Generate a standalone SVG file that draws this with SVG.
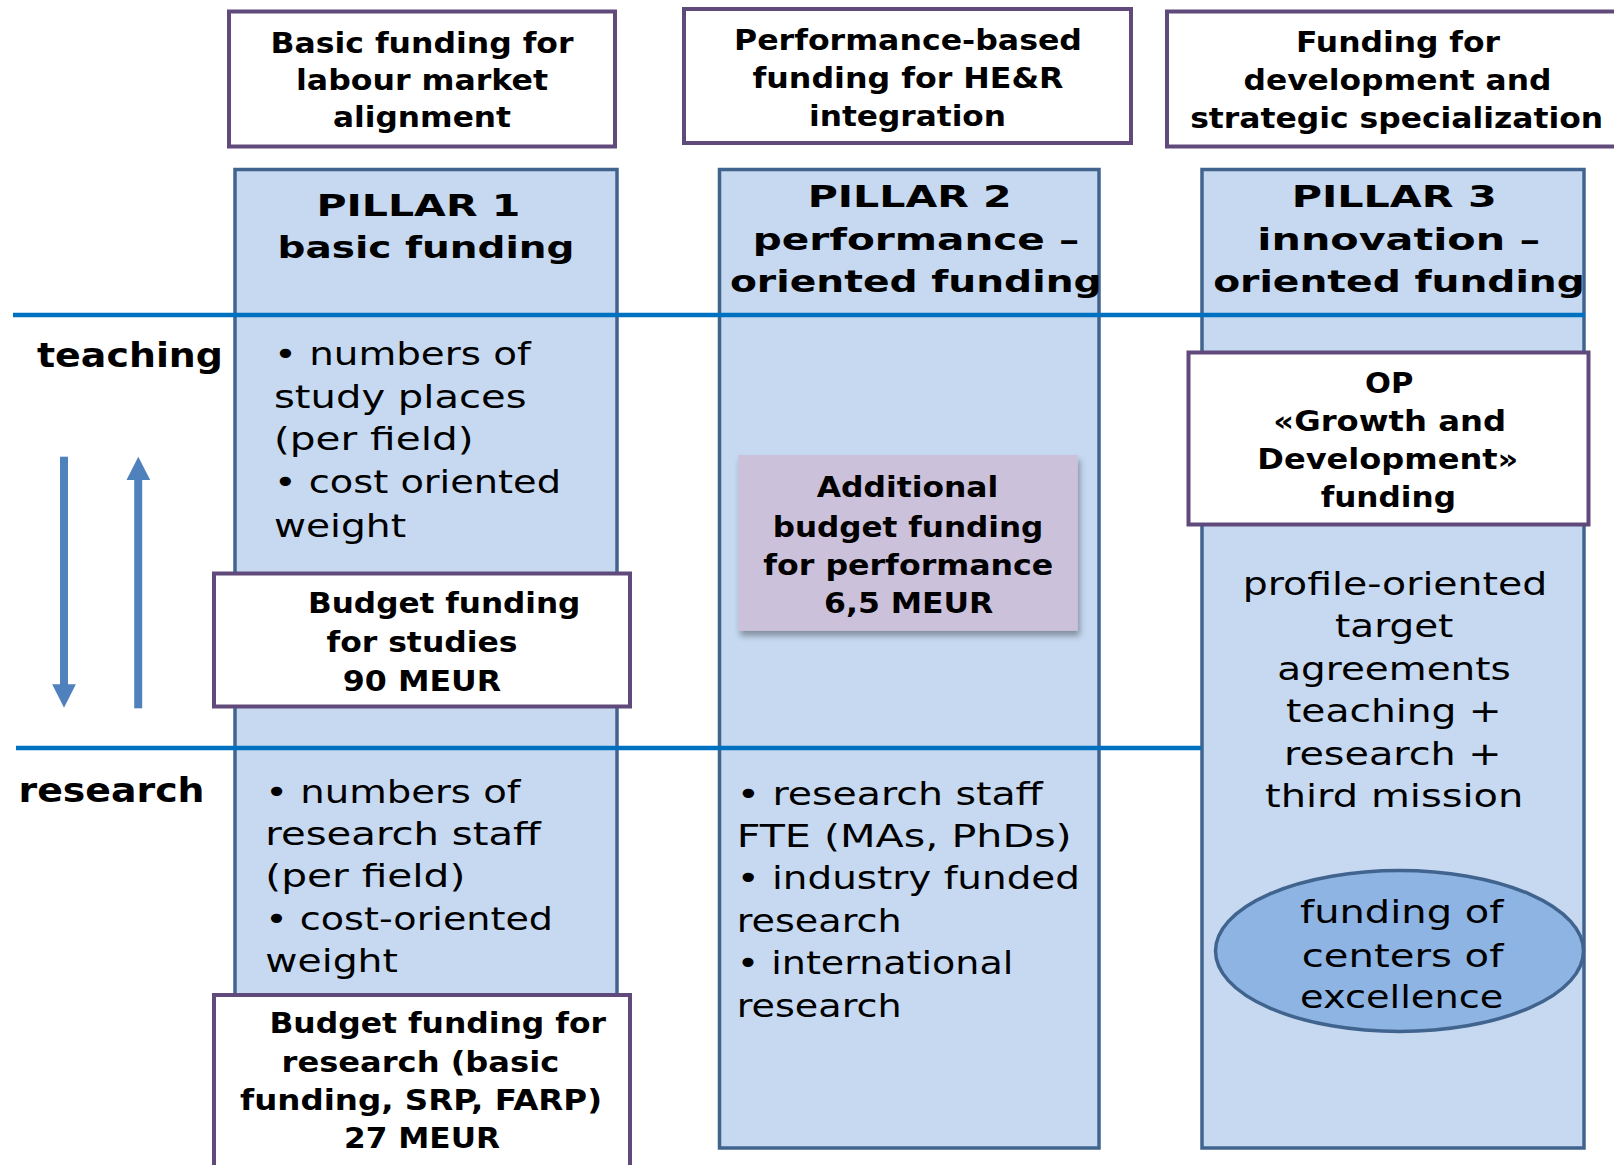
<svg xmlns="http://www.w3.org/2000/svg" width="1614" height="1165" viewBox="0 0 1614 1165">
<style>
.pillar{fill:#c6d9f1;stroke:#41648f;stroke-width:3.5}
.pbox{fill:#ffffff;stroke:#604a7b;stroke-width:4}
.b{font-family:"DejaVu Sans","Liberation Sans",sans-serif;font-weight:bold;fill:#000}
.r{font-family:"DejaVu Sans","Liberation Sans",sans-serif;font-weight:normal;fill:#000}
.c{text-anchor:middle}
.t28{font-size:28px}
.t29{font-size:29px}
.t31{font-size:31px}
.t32{font-size:32px}
.t33{font-size:33px}
.divider{stroke:#0070c0;stroke-width:4.5}
.arrow{fill:#4f81bd}
</style>
<defs>
<filter id="shadow" x="-10%" y="-10%" width="120%" height="130%">
<feDropShadow dx="2" dy="5" stdDeviation="3" flood-color="#000" flood-opacity="0.35"/>
</filter>
</defs>
<rect x="0" y="0" width="1614" height="1165" fill="#ffffff"/>

<g id="pillar1">
<rect class="pillar" x="235" y="169.5" width="382" height="978.5"/>
<text class="b c t31" x="418.4" y="216" textLength="204" lengthAdjust="spacingAndGlyphs">PILLAR 1</text>
<text class="b c t31" x="426" y="258.3" textLength="297" lengthAdjust="spacingAndGlyphs">basic funding</text>
</g>
<g id="pillar2">
<rect class="pillar" x="719.5" y="169.5" width="379.5" height="978.5"/>
<text class="b c t31" x="909.7" y="206.7" textLength="204" lengthAdjust="spacingAndGlyphs">PILLAR 2</text>
<text class="b c t31" x="916" y="250" textLength="326.6" lengthAdjust="spacingAndGlyphs">performance –</text>
<text class="b c t31" x="915.8" y="291.7" textLength="371.7" lengthAdjust="spacingAndGlyphs">oriented funding</text>
</g>
<g id="pillar3">
<rect class="pillar" x="1202" y="169.5" width="382" height="978.5"/>
<text class="b c t31" x="1394.2" y="206.7" textLength="205" lengthAdjust="spacingAndGlyphs">PILLAR 3</text>
<text class="b c t31" x="1398.7" y="250" textLength="282.7" lengthAdjust="spacingAndGlyphs">innovation –</text>
<text class="b c t31" x="1399" y="291.7" textLength="371.7" lengthAdjust="spacingAndGlyphs">oriented funding</text>
</g>

<g id="connectors">
<line class="divider" x1="13" y1="315" x2="1585" y2="315"/>
<line class="divider" x1="16" y1="748" x2="1201" y2="748"/>
<rect class="arrow" x="60" y="456.7" width="8" height="230"/>
<polygon class="arrow" points="52.2,684.3 75.9,684.3 64,707.7"/>
<rect class="arrow" x="134.2" y="478" width="8" height="230.3"/>
<polygon class="arrow" points="126.5,480 150.2,480 138.3,456.7"/>
</g>

<g id="box-labour">
<rect class="pbox" x="229" y="11.5" width="386" height="135"/>
<text class="b c t28" x="422" y="52.5" textLength="303" lengthAdjust="spacingAndGlyphs">Basic funding for</text>
<text class="b c t28" x="422" y="90" textLength="252" lengthAdjust="spacingAndGlyphs">labour market</text>
<text class="b c t28" x="422" y="127" textLength="178" lengthAdjust="spacingAndGlyphs">alignment</text>
</g>
<g id="box-performance">
<rect class="pbox" x="684" y="9" width="447" height="134"/>
<text class="b c t28" x="908" y="49.5" textLength="348" lengthAdjust="spacingAndGlyphs">Performance-based</text>
<text class="b c t28" x="908" y="87.5" textLength="311" lengthAdjust="spacingAndGlyphs">funding for HE&amp;R</text>
<text class="b c t28" x="907.5" y="126" textLength="197" lengthAdjust="spacingAndGlyphs">integration</text>
</g>
<g id="box-development">
<rect class="pbox" x="1167" y="11.5" width="460" height="135"/>
<text class="b c t28" x="1398" y="51.7" textLength="204" lengthAdjust="spacingAndGlyphs">Funding for</text>
<text class="b c t28" x="1397.5" y="90" textLength="308" lengthAdjust="spacingAndGlyphs">development and</text>
<text class="b c t28" x="1396.7" y="128.3" textLength="413" lengthAdjust="spacingAndGlyphs">strategic specialization</text>
</g>

<g id="label-teaching">
<text class="b t33" x="37" y="366.7" textLength="186" lengthAdjust="spacingAndGlyphs">teaching</text>
</g>
<g id="label-research">
<text class="b t33" x="18.5" y="802" textLength="186" lengthAdjust="spacingAndGlyphs">research</text>
</g>

<g id="p1-teaching-criteria">
<text class="r t32" x="274" y="365" textLength="256.6" lengthAdjust="spacingAndGlyphs">• numbers of</text>
<text class="r t32" x="274" y="408.3" textLength="252.5" lengthAdjust="spacingAndGlyphs">study places</text>
<text class="r t32" x="274" y="450" textLength="199.5" lengthAdjust="spacingAndGlyphs">(per field)</text>
<text class="r t32" x="274" y="493.3" textLength="287" lengthAdjust="spacingAndGlyphs">• cost oriented</text>
<text class="r t32" x="274" y="536.7" textLength="132" lengthAdjust="spacingAndGlyphs">weight</text>
</g>
<g id="box-budget-studies">
<rect class="pbox" x="214" y="573.5" width="416" height="133"/>
<text class="b c t28" x="444.2" y="613.3" textLength="272.4" lengthAdjust="spacingAndGlyphs">Budget funding</text>
<text class="b c t28" x="422" y="651.7" textLength="191" lengthAdjust="spacingAndGlyphs">for studies</text>
<text class="b c t28" x="422" y="690.7" textLength="158.3" lengthAdjust="spacingAndGlyphs">90 MEUR</text>
</g>

<g id="p1-research-criteria">
<text class="r t32" x="265.3" y="802.7" textLength="255" lengthAdjust="spacingAndGlyphs">• numbers of</text>
<text class="r t32" x="265.3" y="845" textLength="275.5" lengthAdjust="spacingAndGlyphs">research staff</text>
<text class="r t32" x="265.3" y="886.7" textLength="200" lengthAdjust="spacingAndGlyphs">(per field)</text>
<text class="r t32" x="265.3" y="930" textLength="287.7" lengthAdjust="spacingAndGlyphs">• cost-oriented</text>
<text class="r t32" x="265.3" y="972.3" textLength="132.7" lengthAdjust="spacingAndGlyphs">weight</text>
</g>
<g id="box-budget-research">
<rect class="pbox" x="214" y="995" width="416" height="200"/>
<text class="b c t28" x="437.7" y="1033.3" textLength="336.6" lengthAdjust="spacingAndGlyphs">Budget funding for</text>
<text class="b c t28" x="420.4" y="1071.7" textLength="277.6" lengthAdjust="spacingAndGlyphs">research (basic</text>
<text class="b c t28" x="421" y="1110" textLength="362" lengthAdjust="spacingAndGlyphs">funding, SRP, FARP)</text>
<text class="b c t28" x="422" y="1147.7" textLength="156" lengthAdjust="spacingAndGlyphs">27 MEUR</text>
</g>

<g id="box-additional">
<rect x="738.3" y="455" width="339.4" height="175.7" fill="#ccc1da" filter="url(#shadow)"/>
<text class="b c t29" x="907.5" y="496.7" textLength="181.6" lengthAdjust="spacingAndGlyphs">Additional</text>
<text class="b c t29" x="908" y="536.7" textLength="270.6" lengthAdjust="spacingAndGlyphs">budget funding</text>
<text class="b c t29" x="908.3" y="575" textLength="290" lengthAdjust="spacingAndGlyphs">for performance</text>
<text class="b c t29" x="908.7" y="613.3" textLength="169.3" lengthAdjust="spacingAndGlyphs">6,5 MEUR</text>
</g>

<g id="p2-research-criteria">
<text class="r t32" x="736.7" y="805" textLength="306" lengthAdjust="spacingAndGlyphs">• research staff</text>
<text class="r t32" x="736.7" y="846.7" textLength="335" lengthAdjust="spacingAndGlyphs">FTE (MAs, PhDs)</text>
<text class="r t32" x="736.7" y="889.3" textLength="343.3" lengthAdjust="spacingAndGlyphs">• industry funded</text>
<text class="r t32" x="736.7" y="931.7" textLength="165" lengthAdjust="spacingAndGlyphs">research</text>
<text class="r t32" x="736.7" y="974.3" textLength="276.6" lengthAdjust="spacingAndGlyphs">• international</text>
<text class="r t32" x="736.7" y="1016.7" textLength="165" lengthAdjust="spacingAndGlyphs">research</text>
</g>

<g id="box-op">
<rect class="pbox" x="1188.5" y="352.5" width="400" height="172"/>
<text class="b c t29" x="1389.2" y="392.7" textLength="48.3" lengthAdjust="spacingAndGlyphs">OP</text>
<text class="b c t29" x="1389.7" y="431" textLength="232.7" lengthAdjust="spacingAndGlyphs">«Growth and</text>
<text class="b c t29" x="1387.8" y="469.3" textLength="261" lengthAdjust="spacingAndGlyphs">Development»</text>
<text class="b c t29" x="1388.3" y="506.7" textLength="135.3" lengthAdjust="spacingAndGlyphs">funding</text>
</g>

<g id="p3-criteria">
<text class="r c t32" x="1395" y="595" textLength="304.6" lengthAdjust="spacingAndGlyphs">profile-oriented</text>
<text class="r c t32" x="1394.2" y="636.7" textLength="118.3" lengthAdjust="spacingAndGlyphs">target</text>
<text class="r c t32" x="1394" y="680" textLength="233.4" lengthAdjust="spacingAndGlyphs">agreements</text>
<text class="r c t32" x="1393.8" y="721.7" textLength="215.7" lengthAdjust="spacingAndGlyphs">teaching +</text>
<text class="r c t32" x="1392.8" y="765" textLength="217.7" lengthAdjust="spacingAndGlyphs">research +</text>
<text class="r c t32" x="1394.2" y="806.7" textLength="258.3" lengthAdjust="spacingAndGlyphs">third mission</text>
</g>

<g id="ellipse-excellence">
<ellipse cx="1399.5" cy="951" rx="184" ry="80.5" fill="#8eb4e3" stroke="#41648f" stroke-width="3.5"/>
<text class="r c t32" x="1401.7" y="923.3" textLength="203.3" lengthAdjust="spacingAndGlyphs">funding of</text>
<text class="r c t32" x="1402.5" y="966.7" textLength="201.6" lengthAdjust="spacingAndGlyphs">centers of</text>
<text class="r c t32" x="1401.7" y="1008.3" textLength="203.3" lengthAdjust="spacingAndGlyphs">excellence</text>
</g>
</svg>
